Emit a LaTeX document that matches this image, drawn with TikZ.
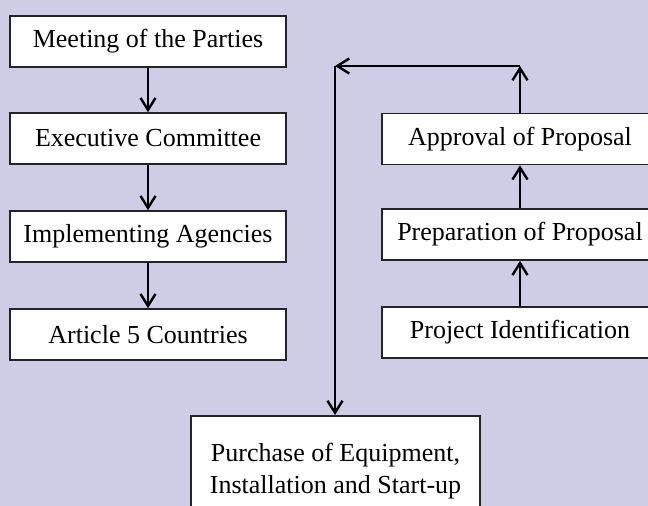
\documentclass[tikz,border=0pt]{standalone}
\usepackage{fontspec}
\setmainfont{Liberation Serif}
\usetikzlibrary{arrows.meta}
\definecolor{lavender}{RGB}{207,204,229}
\definecolor{boxline}{RGB}{35,35,40}
\begin{document}
\begin{tikzpicture}[x=1pt,y=-1pt,
  stagebox/.style={draw=boxline,line width=1.6pt,fill=white,minimum width=276pt,
    minimum height=51pt,inner sep=0pt,font=\fontsize{26}{32}\selectfont,align=center},
  flow/.style={line width=2.8pt,-{Straight Barb[length=12pt,width=15pt,line width=2.4pt]}}]
  \clip (0,0) rectangle (648,506);
  \fill[lavender] (0,0) rectangle (648,506);

  % left column: chain of responsibility
  \node[stagebox] (mop)  at (148,41.5)  {Meeting of the Parties};
  \node[stagebox] (exec) at (148,138.5) {Executive Committee};
  \node[stagebox] (impl) at (148,236.5) {Implementing Agencies};
  \node[stagebox] (art)  at (148,334.5) {Article 5 Countries};

  % right column: project cycle
  \node[stagebox] (appr) at (520,139)   {Approval of Proposal};
  \node[stagebox] (prep) at (520,234.5) {Preparation of Proposal};
  \node[stagebox] (pid)  at (520,332.5) {Project Identification};

  % final stage, running past the lower edge
  \node[stagebox,minimum width=289pt,minimum height=100pt,anchor=north] (buy) at (335.5,415) {};
  \node[font=\fontsize{26}{32}\selectfont,align=center,inner sep=0pt,anchor=base]
    (buytext) at (335.5,493) {Purchase of Equipment,\\Installation and Start-up};

  \coordinate (upper) at (520,66);
  \coordinate (turn)  at (335,66);

  \draw[flow] (mop) -- (exec);
  \draw[flow] (exec) -- (impl);
  \draw[flow] (impl) -- (art);

  \draw[flow] (pid) -- (prep);
  \draw[flow] (prep) -- (appr);
  \draw[flow] (appr) -- (upper);
  \draw[flow] (upper) -- (turn);
  \draw[flow] (turn) -- (turn |- buy.north);
\end{tikzpicture}
\end{document}
